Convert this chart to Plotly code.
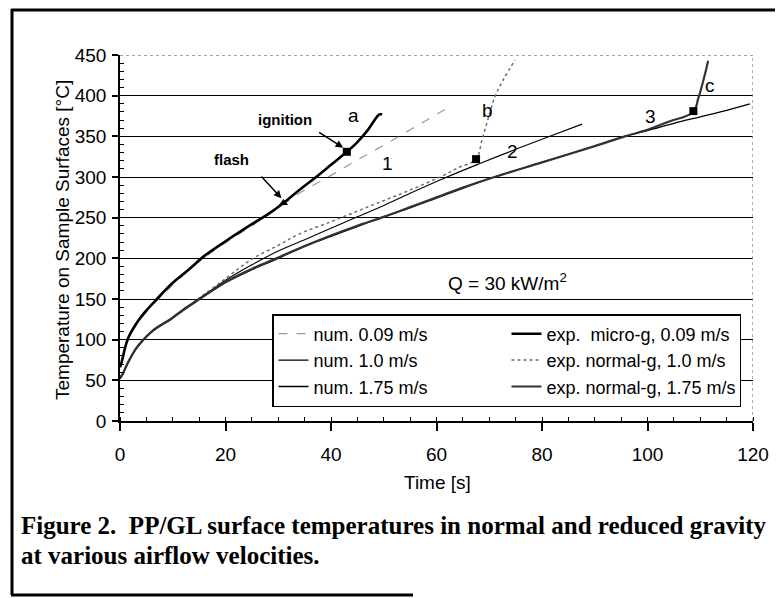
import plotly.graph_objects as go

# ---------------- data ----------------
# exp. micro-g, 0.09 m/s  (curve a)
t_exp_micro = [0, 0.3, 0.6, 1, 1.5, 2, 3, 4, 5, 7, 10, 13, 16, 20, 25, 28, 31, 34, 37, 40, 43, 45, 47, 48.7, 49.2, 49.7]
T_exp_micro = [66, 72, 80, 91, 101, 108, 119, 128, 136, 150, 170, 186, 203, 221, 242, 254, 268, 284, 299, 315, 331, 343, 358, 374, 377, 377]

# num. 0.09 m/s (curve 1)
t_num_009 = [0, 0.3, 0.6, 1, 1.5, 2, 3, 5, 7, 10, 15, 20, 25, 30, 34, 40, 45, 50, 55, 60, 62.6]
T_num_009 = [68, 73, 79, 89, 99, 106, 117, 134, 148, 167, 196, 219, 240, 262, 280, 302, 321, 339, 358, 377, 387]

# exp. normal-g, 1.0 m/s (curve b)
t_exp_10 = [0, 0.3, 0.6, 1, 2, 3, 4.4, 6, 7, 9.5, 12, 15, 20, 25, 30, 34, 40, 45, 50, 55, 61, 64, 67.5, 68.6, 69.8, 71.1, 72.7, 74.9]
T_exp_10 = [52, 55, 58, 65, 78, 89, 100, 110, 115, 125, 137, 151, 175, 199, 216, 230, 245, 258, 271, 284, 301, 311, 322, 345, 372, 399, 420, 444]

# num. 1.0 m/s (curve 2)
t_num_10 = [0, 0.3, 0.6, 1, 2, 3, 4.4, 6, 7, 9.5, 12, 15, 20, 25, 30, 35, 40, 45, 50, 55, 62, 68, 75, 81.5, 87.6]
T_num_10 = [52, 55, 58, 65, 78, 88, 100, 110, 115, 125, 137, 150, 173, 192, 209, 223, 237, 251, 265, 280, 300, 316, 334, 350, 365]

# num. 1.75 m/s (curve 3)
t_num_175 = [0, 0.3, 0.6, 1, 2, 3, 4.4, 6, 7, 9.5, 12, 15, 20, 25, 30, 35, 40, 45, 50, 55, 60, 65, 71, 80, 90, 95.7, 100, 105, 110, 115, 119.4]
T_num_175 = [52, 55, 58, 64, 77, 88, 99, 109, 114, 124, 136, 149, 170, 186, 200, 215, 227, 239, 251, 262, 274, 286, 300, 318, 338, 350, 357, 366, 374, 382, 390]

# exp. normal-g, 1.75 m/s (curve c)
t_exp_175 = [0, 0.3, 0.6, 1, 2, 3, 4.4, 6, 7, 9.5, 12, 15, 20, 25, 30, 35, 40, 45, 50, 55, 60, 65, 71, 80, 90, 95.7, 100, 104, 108.7, 109.6, 110.6, 111.5]
T_exp_175 = [54, 56, 59, 65, 78, 89, 100, 110, 115, 125, 137, 150, 171, 187, 201, 215, 228, 240, 251, 263, 275, 287, 300, 318, 338, 350, 358, 368, 380, 396, 419, 443]

# events
flash_t = [31]
flash_T = [268]
ignition_t = [43, 67.5, 108.7]
ignition_T = [331, 322, 381]

x_ticks = [0, 20, 40, 60, 80, 100, 120]
y_ticks = [0, 50, 100, 150, 200, 250, 300, 350, 400, 450]

# ---------------- layout helpers ----------------
OFF = 8                      # page body margin of the html page
W, H = 775, 590
ML, MR, MT, MB = 112, 30, 47, 177
PW = W - ML - MR
PH = H - MT - MB


def px_x(px):
    """page x pixel -> paper x"""
    return (px - OFF - ML) / PW


def px_y(py):
    """page y pixel -> paper y"""
    return (H - MB - (py - OFF)) / PH


FONT = "Liberation Sans, Arial, sans-serif"

fig = go.Figure()

series = [
    ("num. 0.09 m/s", t_num_009, T_num_009, dict(color="#9a9a9a", width=1.2, dash="dash"), 1),
    ("exp.  micro-g, 0.09 m/s", t_exp_micro, T_exp_micro, dict(color="black", width=2.6), 2),
    ("num. 1.0 m/s", t_num_10, T_num_10, dict(color="black", width=1.1), 3),
    ("exp. normal-g, 1.0 m/s", t_exp_10, T_exp_10, dict(color="#6e6e6e", width=1.5, dash="dot"), 4),
    ("num. 1.75 m/s", t_num_175, T_num_175, dict(color="black", width=1.3), 5),
    ("exp. normal-g, 1.75 m/s", t_exp_175, T_exp_175, dict(color="#333333", width=2.2), 6),
]

for name, xs, ys, line, rank in series:
    fig.add_trace(go.Scatter(x=xs, y=ys, mode="lines", name=name, line=line,
                             legendrank=rank, line_shape="spline"))

fig.add_trace(go.Scatter(x=flash_t, y=flash_T, mode="markers", showlegend=False,
                         marker=dict(symbol="triangle-up", size=8, color="black")))
fig.add_trace(go.Scatter(x=ignition_t, y=ignition_T, mode="markers", showlegend=False,
                         marker=dict(symbol="square", size=8, color="black")))

annotations = []
# curve labels
for txt, xx, yy in [("a", 44.2, 376), ("1", 50.8, 317), ("b", 69.6, 382), ("2", 74.5, 331),
                    ("3", 100.5, 375), ("c", 111.8, 412)]:
    annotations.append(dict(x=xx, y=yy, text=txt, showarrow=False,
                            font=dict(family=FONT, size=19, color="black")))
annotations.append(dict(x=31.3, y=371, text="<b>ignition</b>", showarrow=False,
                        font=dict(family=FONT, size=15, color="black")))
annotations.append(dict(x=21.2, y=321, text="<b>flash</b>", showarrow=False,
                        font=dict(family=FONT, size=15, color="black")))
# arrows
annotations.append(dict(x=42.3, y=336, ax=-28, ay=-18, text=" ", showarrow=True,
                        arrowhead=2, arrowsize=1, arrowwidth=1.5, arrowcolor="black"))
annotations.append(dict(x=30.6, y=274, ax=-24, ay=-26, text=" ", showarrow=True,
                        arrowhead=2, arrowsize=1, arrowwidth=1.5, arrowcolor="black"))
annotations.append(dict(x=73.4, y=171, text="Q = 30 kW/m<sup>2</sup>", showarrow=False,
                        font=dict(family=FONT, size=19, color="black")))
# axis titles
annotations.append(dict(xref="paper", yref="paper", x=px_x(62), y=px_y(240),
                        xanchor="center", yanchor="middle",
                        text="Temperature on Sample Surfaces [°C]", textangle=-90,
                        showarrow=False, font=dict(family=FONT, size=19, color="black")))
annotations.append(dict(xref="paper", yref="paper", x=px_x(437), y=px_y(482),
                        xanchor="center", yanchor="middle",
                        text="Time [s]", showarrow=False,
                        font=dict(family=FONT, size=19, color="black")))
# caption
CAP = "Liberation Serif, Times New Roman, serif"
annotations.append(dict(xref="paper", yref="paper", x=px_x(19), y=px_y(525),
                        xanchor="left", yanchor="middle",
                        text="<b>Figure 2.  PP/GL surface temperatures in normal and reduced gravity</b>",
                        showarrow=False, font=dict(family=CAP, size=25, color="black")))
annotations.append(dict(xref="paper", yref="paper", x=px_x(19), y=px_y(555),
                        xanchor="left", yanchor="middle",
                        text="<b>at various airflow velocities.</b>",
                        showarrow=False, font=dict(family=CAP, size=25, color="black")))

shapes = [
    # top border of plot (dotted grey)
    dict(type="line", xref="x", yref="y", x0=0, x1=120, y0=450, y1=450,
         line=dict(color="white", width=3), layer="above"),
    dict(type="line", xref="x", yref="y", x0=0, x1=120, y0=450, y1=450,
         line=dict(color="#888888", width=1.3, dash="dot"), layer="above"),
    dict(type="line", xref="x", yref="y", x0=120, x1=120, y0=0, y1=450,
         line=dict(color="#888888", width=1.3, dash="dot"), layer="above"),
    # outer frame
    dict(type="line", xref="paper", yref="paper", x0=px_x(11), x1=px_x(783), y0=px_y(10), y1=px_y(10),
         line=dict(color="black", width=3)),
    dict(type="line", xref="paper", yref="paper", x0=px_x(12), x1=px_x(12), y0=px_y(9), y1=px_y(595),
         line=dict(color="black", width=3)),
    dict(type="line", xref="paper", yref="paper", x0=px_x(11), x1=px_x(413), y0=px_y(595), y1=px_y(595),
         line=dict(color="black", width=3)),
]

fig.update_layout(
    width=W, height=H,
    margin=dict(l=ML, r=MR, t=MT, b=MB, autoexpand=False),
    paper_bgcolor="white", plot_bgcolor="white",
    font=dict(family=FONT, size=19, color="black"),
    showlegend=True,
    legend=dict(orientation="h", x=px_x(272), y=px_y(314), xanchor="left", yanchor="top",
                entrywidth=188, entrywidthmode="pixels",
                bgcolor="white", bordercolor="black", borderwidth=1.5,
                font=dict(family=FONT, size=18, color="black"),
                itemwidth=30, tracegroupgap=0),
    annotations=annotations,
    shapes=shapes,
)

fig.update_xaxes(range=[0, 120], tickvals=x_ticks, showgrid=False, zeroline=False,
                 showline=True, linecolor="black", linewidth=1.5,
                 ticks="outside", ticklen=8, tickwidth=1.5, tickcolor="black",
                 ticklabelstandoff=7,
                 tickfont=dict(family=FONT, size=19, color="black"),
                 minor=dict(dtick=5, tick0=0, ticks="inside", ticklen=4, tickwidth=1.2,
                            tickcolor="black", showgrid=False))
fig.update_yaxes(range=[0, 450], tickvals=y_ticks, showgrid=True, gridcolor="black", gridwidth=1.3,
                 zeroline=False, showline=True, linecolor="black", linewidth=1.5,
                 ticks="outside", ticklen=6, tickwidth=1.5, tickcolor="black",
                 ticklabelstandoff=2,
                 tickfont=dict(family=FONT, size=19, color="black"),
                 minor=dict(dtick=10, tick0=0, ticks="inside", ticklen=4, tickwidth=1.2,
                            tickcolor="black", showgrid=False))

fig.write_html("out.html")
